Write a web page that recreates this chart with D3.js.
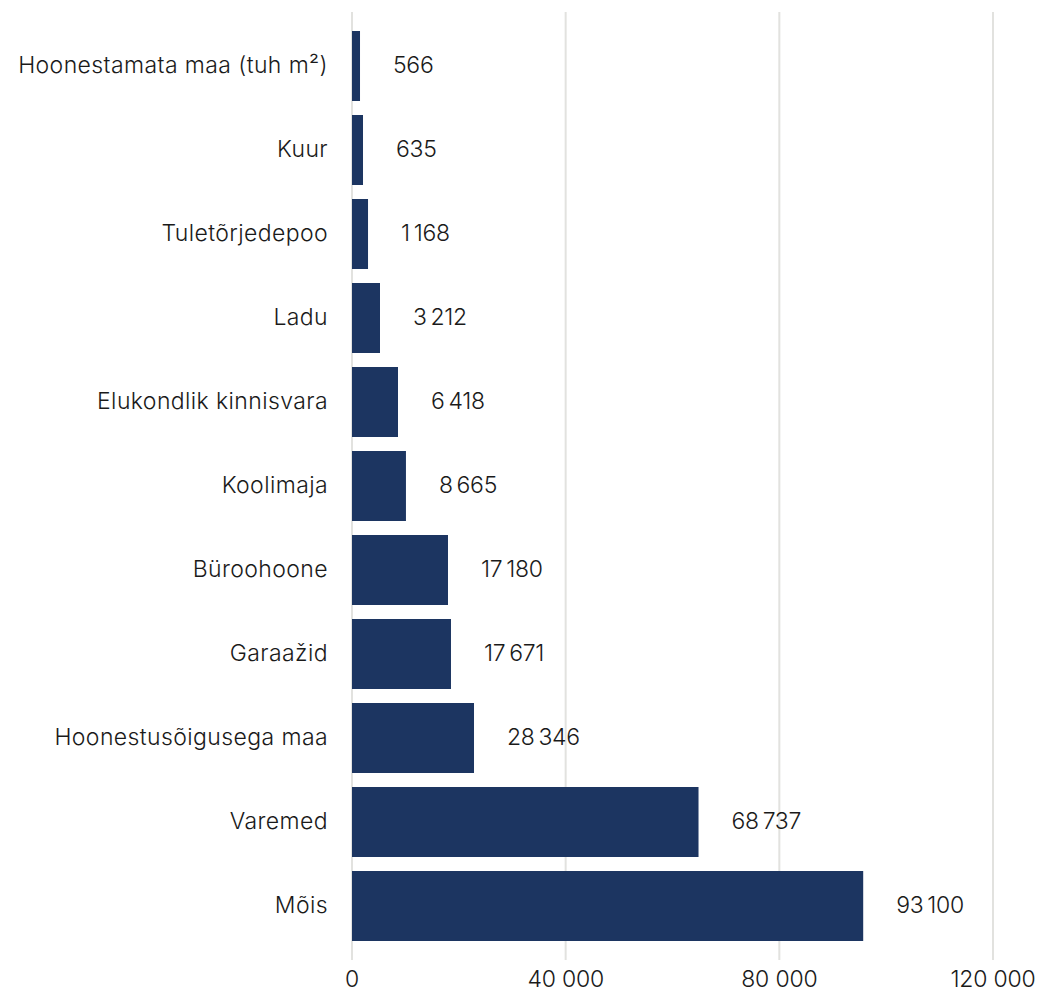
<!DOCTYPE html>
<html>
<head>
<meta charset="utf-8">
<script src="https://cdn.jsdelivr.net/npm/d3@7"></script>
<style>
  html, body { margin: 0; padding: 0; background: #fff; }
  svg { display: block; }
  text { font-family: Inter, "Noto Sans", sans-serif; fill: #1a1a1a; font-weight: 300; }
</style>
</head>
<body>
<svg id="chart" width="1041" height="994"></svg>
<script>
// Categories (top to bottom)
const categories = [
  "Hoonestamata maa (tuh m²)",
  "Kuur",
  "Tuletõrjedepoo",
  "Ladu",
  "Elukondlik kinnisvara",
  "Koolimaja",
  "Büroohoone",
  "Garaažid",
  "Hoonestusõigusega maa",
  "Varemed",
  "Mõis"
];
// Bar lengths as drawn in the picture (axis units)
const barValues = [1500, 2060, 3000, 5240, 8610, 10100, 17970, 18530, 22840, 64870, 95700];
// Printed value labels
const labelValues = [566, 635, 1168, 3212, 6418, 8665, 17180, 17671, 28346, 68737, 93100];
// Axis ticks
const tickValues = [0, 40000, 80000, 120000];

const svg = d3.select("#chart");
const x0 = 352, x1 = 993;

const x = d3.scaleLinear().domain([0, 120000]).range([x0, x1]);
const y = d3.scaleBand().domain(categories).range([24, 948])
  .paddingInner(1/6).paddingOuter(1/12);

const tickFmt = d3.formatLocale({decimal: ",", thousands: " ", grouping: [3], currency: ["", " €"]}).format(",d");
const labelFmt = d3.formatLocale({decimal: ",", thousands: "\u2009", grouping: [3], currency: ["", " €"]}).format(",d");

// Gridlines
svg.append("g").selectAll("line").data(tickValues).join("line")
  .attr("x1", d => x(d)).attr("x2", d => x(d))
  .attr("y1", 12).attr("y2", 960)
  .attr("stroke", "#e2e2df").attr("stroke-width", 2);

// Bars
svg.append("g").selectAll("rect").data(categories).join("rect")
  .attr("x", x(0))
  .attr("y", d => y(d))
  .attr("width", (d, i) => x(barValues[i]) - x(0))
  .attr("height", y.bandwidth())
  .attr("fill", "#1c3561");

// Category labels
svg.append("g").selectAll("text").data(categories).join("text")
  .attr("x", x(0) - 24)
  .attr("y", d => y(d) + y.bandwidth() / 2 - 1.5)
  .attr("text-anchor", "end")
  .attr("dominant-baseline", "central")
  .attr("font-size", 23)
  .attr("letter-spacing", 0.4)
  .text(d => d);

// Value labels
svg.append("g").selectAll("text").data(categories).join("text")
  .attr("x", (d, i) => x(barValues[i]) + 33)
  .attr("y", d => y(d) + y.bandwidth() / 2 - 1.5)
  .attr("dominant-baseline", "central")
  .attr("font-size", 23)
  .attr("letter-spacing", -0.3)
  .text((d, i) => labelFmt(labelValues[i]));

// Axis tick labels
svg.append("g").selectAll("text").data(tickValues).join("text")
  .attr("x", d => x(d))
  .attr("y", 987)
  .attr("text-anchor", "middle")
  .attr("font-size", 23)
  .attr("letter-spacing", -0.2)
  .text(d => tickFmt(d));
</script>
</body>
</html>
